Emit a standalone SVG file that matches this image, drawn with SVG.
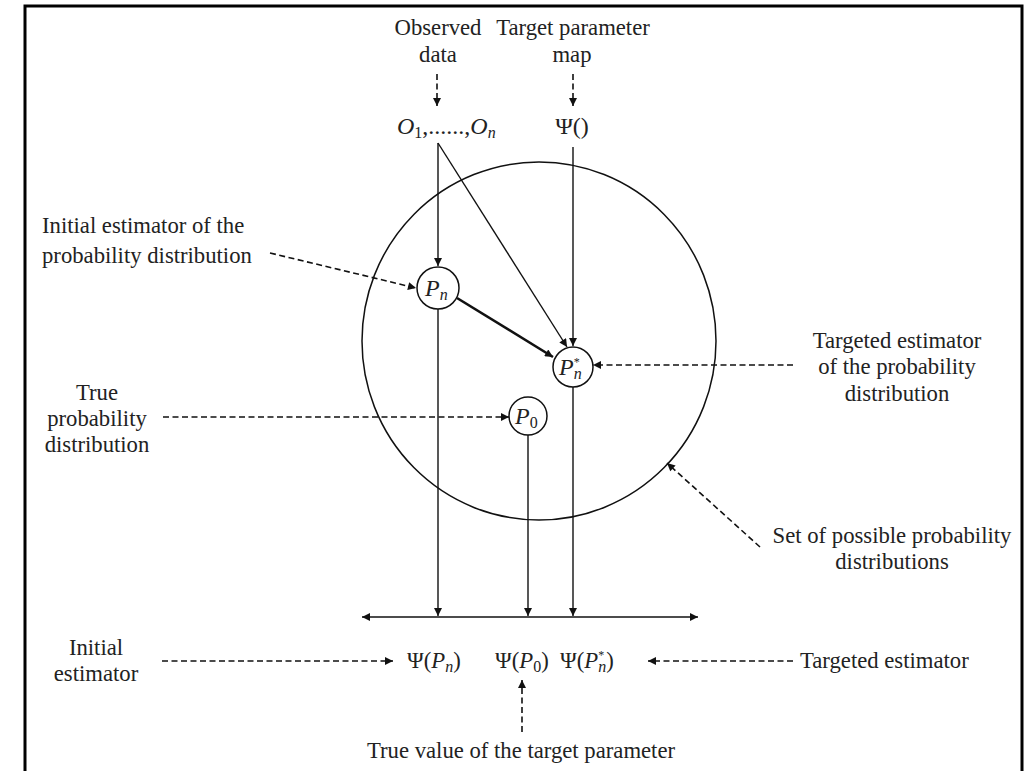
<svg xmlns="http://www.w3.org/2000/svg" width="1025" height="771" viewBox="0 0 1025 771">
<style>
text{font-family:"Liberation Serif","Times New Roman",serif;font-size:22.7px;fill:#222}
.c{text-anchor:middle}
.i{font-style:italic}
.sub{font-size:16px}
.sup{font-size:12px}
.m{font-size:24px}
.ln{stroke:#111;stroke-width:1.4;fill:none}
.thick{stroke:#111;stroke-width:2.6;fill:none}
.dash{stroke:#111;stroke-width:1.6;stroke-dasharray:6 3.5;fill:none}
.node{fill:#fff;stroke:#111;stroke-width:1.5}
</style>
<defs>
<marker id="ah" viewBox="0 0 10 10" refX="10" refY="5" markerWidth="9" markerHeight="8" markerUnits="userSpaceOnUse" orient="auto-start-reverse">
<path d="M0,0 L10,5 L0,10 z" fill="#111"/>
</marker>
</defs>
<rect width="1025" height="771" fill="#fff"/>
<path d="M25,771 V6 H1022 V771" fill="none" stroke="#000" stroke-width="3"/>

<g id="set-circle"><ellipse cx="539" cy="341" rx="177" ry="179" fill="none" stroke="#111" stroke-width="1.5"/></g>

<g id="connectors">
<line class="dash" x1="437" y1="74" x2="437" y2="106" marker-end="url(#ah)"/>
<line class="dash" x1="573" y1="74" x2="573" y2="106" marker-end="url(#ah)"/>
<line class="ln" x1="438" y1="143" x2="438" y2="266" marker-end="url(#ah)"/>
<line class="ln" x1="438" y1="143" x2="567" y2="347" marker-end="url(#ah)"/>
<line class="ln" x1="573" y1="147" x2="573" y2="346" marker-end="url(#ah)"/>
<line class="thick" x1="457" y1="298" x2="553" y2="357" marker-end="url(#ah)"/>
<line class="ln" x1="438" y1="309" x2="438" y2="616" marker-end="url(#ah)"/>
<line class="ln" x1="528" y1="435" x2="528" y2="616" marker-end="url(#ah)"/>
<line class="ln" x1="573" y1="387" x2="573" y2="616" marker-end="url(#ah)"/>
<line class="ln" x1="362" y1="617" x2="698" y2="617" stroke-width="1.8" marker-start="url(#ah)" marker-end="url(#ah)"/>
<line class="dash" x1="270" y1="253" x2="416" y2="288" marker-end="url(#ah)"/>
<line class="dash" x1="163" y1="417" x2="509" y2="417" marker-end="url(#ah)"/>
<line class="dash" x1="793" y1="365" x2="593" y2="365" marker-end="url(#ah)"/>
<line class="dash" x1="760" y1="547" x2="667" y2="463" marker-end="url(#ah)"/>
<line class="dash" x1="162" y1="661" x2="393" y2="661" marker-end="url(#ah)"/>
<line class="dash" x1="793" y1="661" x2="648" y2="661" marker-end="url(#ah)"/>
<line class="dash" x1="522" y1="732" x2="522" y2="680" marker-end="url(#ah)"/>
</g>

<g id="observed-data"><text class="c" x="438" y="35">Observed</text><text class="c" x="438" y="62">data</text></g>
<g id="target-parameter-map"><text class="c" x="573" y="35">Target parameter</text><text class="c" x="572" y="62">map</text></g>
<g id="O-data"><text x="397" y="134" class="m"><tspan class="i">O</tspan><tspan class="sub" dy="4">1</tspan><tspan dy="-4">,......,</tspan><tspan class="i">O</tspan><tspan class="sub i" dy="4">n</tspan></text></g>
<g id="psi-map"><text class="c m" x="572" y="134">Ψ()</text></g>

<g id="Pn"><circle class="node" cx="438" cy="288" r="21"/><text class="m" x="425" y="296"><tspan class="i">P</tspan><tspan class="sub i" dy="4">n</tspan></text></g>
<g id="Pnstar"><circle class="node" cx="573" cy="367" r="20"/><text class="m" x="559" y="375"><tspan class="i">P</tspan><tspan class="sup" dy="-9">*</tspan><tspan class="sub i" dx="-6" dy="13">n</tspan></text></g>
<g id="P0"><circle class="node" cx="528" cy="416" r="19"/><text class="m" x="515" y="424"><tspan class="i">P</tspan><tspan class="sub" dy="4">0</tspan></text></g>

<g id="label-initial-est-prob"><text x="42" y="233">Initial estimator of the</text><text x="42" y="263">probability distribution</text></g>
<g id="label-true-prob"><text class="c" x="97" y="400">True</text><text class="c" x="97" y="426">probability</text><text class="c" x="97" y="452">distribution</text></g>
<g id="label-targeted-prob"><text class="c" x="897" y="348">Targeted estimator</text><text class="c" x="897" y="374">of the probability</text><text class="c" x="897" y="401">distribution</text></g>
<g id="label-set"><text class="c" x="892" y="543">Set of possible probability</text><text class="c" x="892" y="569">distributions</text></g>

<g id="psi-Pn"><text x="407" y="668">Ψ(<tspan class="i">P</tspan><tspan class="sub i" dy="4">n</tspan><tspan dy="-4">)</tspan></text></g>
<g id="psi-P0"><text x="495" y="668">Ψ(<tspan class="i">P</tspan><tspan class="sub" dy="4">0</tspan><tspan dy="-4">)</tspan></text></g>
<g id="psi-Pnstar"><text x="560" y="668">Ψ(<tspan class="i">P</tspan><tspan class="sup" dy="-9">*</tspan><tspan class="sub i" dx="-6" dy="13">n</tspan><tspan dy="-4">)</tspan></text></g>

<g id="label-initial-est"><text class="c" x="96" y="655">Initial</text><text class="c" x="96" y="681">estimator</text></g>
<g id="label-targeted-est"><text x="800" y="668">Targeted estimator</text></g>
<g id="label-true-value"><text class="c" x="521" y="758">True value of the target parameter</text></g>
</svg>
